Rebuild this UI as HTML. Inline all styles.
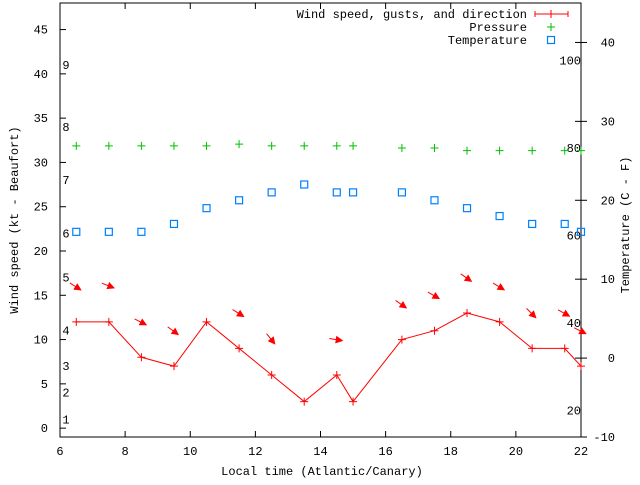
<!DOCTYPE html>
<html><head><meta charset="utf-8">
<style>
html,body{margin:0;padding:0;background:#fff;}
svg text{font-family:"Liberation Mono",monospace;font-size:12px;fill:#000;}
</style></head>
<body>
<svg id="chart" width="640" height="480" viewBox="0 0 640 480" xmlns="http://www.w3.org/2000/svg"></svg>
<script>
const times = [6.5,7.5,8.5,9.5,10.5,11.5,12.5,13.5,14.5,15,16.5,17.5,18.5,19.5,20.5,21.5,22];
const windSpeed = [12,12,8,7,12,9,6,3,6,3,10,11,13,12,9,9,7];
const temperature = [16,16,16,17,19,20,21,22,21,21,21,20,19,18,17,17,16];
const pressure = [80.5,80.5,80.5,80.5,80.5,80.9,80.5,80.5,80.5,80.5,80,80,79.4,79.4,79.4,79.4,79.4];
const arrowTimes = [6.5,7.5,8.5,9.5,11.5,12.5,14.5,16.5,17.5,18.5,19.5,20.5,21.5,22];
const gusts = [16,16.1,12,11,13,10.1,10,14,15,17,16,13,13,11];
const windDir = [302,291,297,306,302,321,279,305,300,305,301,315,299,297];
const xTicks = [6,8,10,12,14,16,18,20,22];
const yTicks = [0,5,10,15,20,25,30,35,40,45];
const y2Ticks = [-10,0,10,20,30,40];
const beaufortKt = [1,4,7,11,17,22,28,34,41];
const beaufortLabels = ['1','2','3','4','5','6','7','8','9'];
const pressureTicks = [20,40,60,80,100];

const L=60,R=581,T=3,B=437;
const X=v=>L+(v-6)/(22-6)*(R-L);
const Y=v=>B-(v+1)/(48+1)*(B-T);
const Y2=v=>B-(v+10)/(45+10)*(B-T);
const YP=v=>148-(v-80)*4.375;

const svg=document.getElementById('chart');
const NS='http://www.w3.org/2000/svg';
function mk(tag,attrs,parent){const e=document.createElementNS(NS,tag);for(const k in attrs)e.setAttribute(k,attrs[k]);(parent||svg).appendChild(e);return e;}
function txt(s,x,y,anchor,parent){const t=mk('text',{x:x,y:y,'text-anchor':anchor||'middle'},parent);t.textContent=s;return t;}

const frame=mk('rect',{x:L,y:T,width:R-L,height:B-T,fill:'none',stroke:'#000','stroke-width':1});



const xAxis=mk('g',{});


xTicks.forEach(v=>{
  mk('line',{x1:X(v),y1:B,x2:X(v),y2:B-6,stroke:'#000'},xAxis);
  mk('line',{x1:X(v),y1:T,x2:X(v),y2:T+6,stroke:'#000'},xAxis);
  const t=txt(String(v),X(v),B+18,'middle',xAxis);
  
  
});
const yAxis=mk('g',{});


yTicks.forEach(v=>{
  mk('line',{x1:L,y1:Y(v),x2:L+6,y2:Y(v),stroke:'#000'},yAxis);
  const t=txt(String(v),L-12,Y(v)+4,'end',yAxis);
  
  
});
const y2Axis=mk('g',{});


y2Ticks.forEach(v=>{
  mk('line',{x1:R,y1:Y2(v),x2:R+6,y2:Y2(v),stroke:'#000'},y2Axis);
  mk('line',{x1:R,y1:Y2(v),x2:R-6,y2:Y2(v),stroke:'#000'},y2Axis);
  const t=txt(String(v),R+34,Y2(v)+4,'end',y2Axis);
  
  
});
beaufortKt.forEach((v,i)=>{
  const t=txt(beaufortLabels[i],66,Y(v)+4,'middle');
  
  
});
pressureTicks.forEach(v=>{
  const t=txt(String(v),R,YP(v)+4,'end');
  
  
});

const xt=txt('Local time (Atlantic/Canary)',322,475,'middle');


const yt=txt('Wind speed (kt - Beaufort)',0,0,'middle');
yt.setAttribute('transform','translate(18,220) rotate(-90)');


const y2t=txt('Temperature (C - F)',0,0,'middle');
y2t.setAttribute('transform','translate(629,225) rotate(-90)');



const pg=mk('g',{});


times.forEach((t,i)=>{
  const x=X(t),y=YP(pressure[i]);
  const p=mk('path',{d:`M${x-4},${y}H${x+4}M${x},${y-4}V${y+4}`,stroke:'#00c000','stroke-width':1},pg);
  
  
});
const tg=mk('g',{});


times.forEach((t,i)=>{
  const r=mk('rect',{x:X(t)-3.5,y:Y2(temperature[i])-3.5,width:7,height:7,fill:'none',stroke:'#0080ff','stroke-width':1.2},tg);
  
  
});
const wg=mk('g',{});


const wl=mk('polyline',{points:times.map((t,i)=>X(t)+','+Y(windSpeed[i])).join(' '),fill:'none',stroke:'#ff0000','stroke-width':1},wg);


times.forEach((t,i)=>{
  const x=X(t),y=Y(windSpeed[i]);
  const p=mk('path',{d:`M${x-4},${y}H${x+4}M${x},${y-4}V${y+4}`,stroke:'#ff0000','stroke-width':1},wg);
  
  
});
arrowTimes.forEach((t,i)=>{
  const cx=X(t)-1,cy=Y(gusts[i]);
  const a=(windDir[i]-270)*Math.PI/180;
  const dx=Math.cos(a)*6.5,dy=Math.sin(a)*6.5;
  const g=mk('g',{});
  
  
  mk('line',{x1:cx-dx,y1:cy-dy,x2:cx+dx,y2:cy+dy,stroke:'#ff0000','stroke-width':1},g);
  const hx=cx+dx,hy=cy+dy,ux=Math.cos(a),uy=Math.sin(a);
  const bx=hx-ux*6,by=hy-uy*6;
  mk('polygon',{points:`${hx},${hy} ${bx-uy*3},${by+ux*3} ${bx+uy*3},${by-ux*3}`,fill:'#ff0000',stroke:'#ff0000'},g);
});

const lg=mk('g',{});


const legendNames=['Wind speed, gusts, and direction','Pressure','Temperature'];
legendNames.forEach((n,i)=>{
  const y=14+i*13;
  const t=txt(n,527,y+4,'end',lg);
  
  
});
mk('path',{d:'M535,14H568M535,11V17M568,11V17M551,10V18',stroke:'#ff0000',fill:'none'},lg);
mk('path',{d:'M547,27H555M551,23V31',stroke:'#00c000',fill:'none'},lg);
mk('rect',{x:547.5,y:36.5,width:7,height:7,fill:'none',stroke:'#0080ff','stroke-width':1.2},lg);
</script>
</body></html>
